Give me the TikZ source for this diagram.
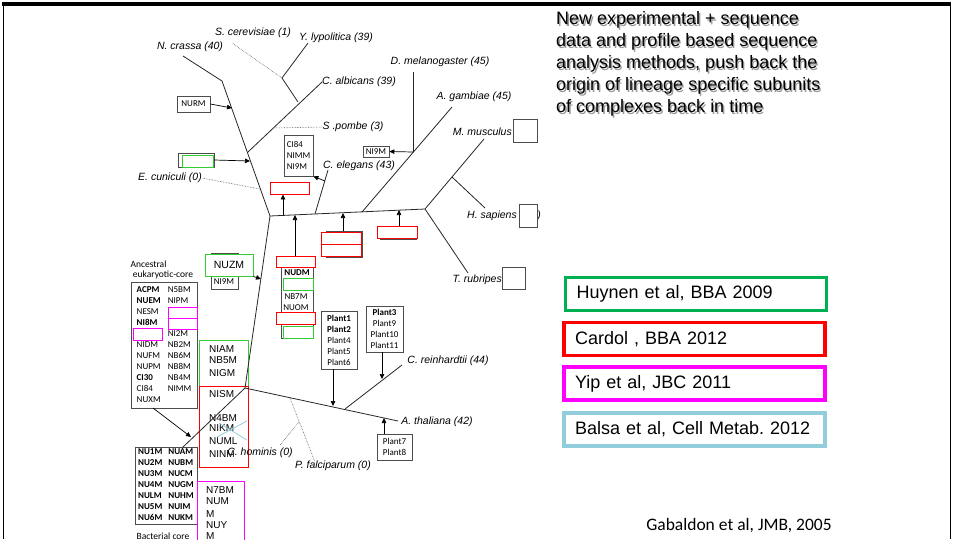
\documentclass[tikz,border=0pt]{standalone}
\usepackage{fontspec}
\setmainfont{Liberation Sans}
\newfontfamily\calibri{Carlito}
\usetikzlibrary{arrows.meta}
\frenchspacing
\definecolor{hgreen}{HTML}{00B050}
\definecolor{boxgreen}{HTML}{33CC33}
\definecolor{pinkc}{HTML}{FF00FF}
\definecolor{redc}{HTML}{FF0000}
\definecolor{balsablue}{HTML}{92CDDC}
\newcommand\headtext{New experimental + sequence\\data and profile based sequence\\analysis methods, push back the\\origin of lineage specific subunits\\of complexes back in time}

\tikzset{
  sz/.style 2 args={minimum width=#1, minimum height=#2},
  branch/.style={line width=0.8pt, black!85},
  faint/.style={densely dotted, line width=0.6pt, black!65},
  species/.style={font=\itshape\fontsize{10.5}{12}\selectfont, inner sep=0pt},
  subunits/.style={draw=black!70, line width=0.7pt, fill=white, inner sep=0pt, align=left,
    font=\calibri\fontsize{9}{11}\selectfont},
  bigsub/.style={inner sep=0pt, align=left, font=\fontsize{10}{11}\selectfont},
  redbox/.style={draw=redc, line width=0.9pt, fill=white, inner sep=0pt},
  greenbox/.style={draw=boxgreen, line width=0.9pt, fill=white, inner sep=0pt},
  pinkbox/.style={draw=pinkc, line width=0.9pt, inner sep=0pt},
  tip/.style={-{Triangle[length=5pt,width=4.5pt]}, line width=0.7pt},
  legend/.style={line width=3.5pt, sz={261pt}{33pt}, inner xsep=11pt, text width=239pt,
    align=left, font=\fontsize{18}{20}\selectfont},
  headline/.style={anchor=north west, inner sep=0pt, align=left, font=\fontsize{18}{22}\selectfont}
}

\begin{document}
\begin{tikzpicture}[x=1pt,y=-1pt]
  \useasboundingbox (0,0) rectangle (953,539);
  \draw[line width=3.5pt] (2,4) -- (951,4);
  \draw[line width=1pt] (3,4) -- (3,539);
  \draw[line width=1pt] (950,4) -- (950,539);

  \node[headline, text=black!40] (headshadow) at (557.4,12.9) {\headtext};
  \node[headline] (headline) at (556,11.5) {\headtext};

  \node[legend, draw=hgreen] (huynen) at (696,294) {Huynen et al, BBA 2009};
  \node[legend, draw=redc] (cardol) at (694.5,339) {Cardol , BBA 2012};
  \node[legend, draw=pinkc] (yip) at (694.5,383.5) {Yip et al, JBC 2011};
  \node[legend, draw=balsablue] (balsa) at (694.5,429.5) {Balsa et al, Cell Metab. 2012};
  \node[font=\calibri\fontsize{17.5}{20}\selectfont] (gabaldon) at (739,526) {Gabaldon et al, JMB, 2005};

  \node[subunits, sz={33pt}{16pt}, align=center] (nurm) at (193.5,104) {NURM};
  \node[subunits, sz={36pt}{14pt}] (hgbox) at (196,160) {};
  \node[greenbox, sz={31pt}{12pt}] (hginner) at (197.5,161) {};
  \node[subunits, sz={29pt}{41pt}] (cibox) at (298.5,155.5) {CI84\\NIMM\\NI9M};
  \node[redbox, sz={39pt}{12pt}] (celred) at (289.5,188) {};
  \node[subunits, sz={26pt}{11pt}, align=center] (dmelbox) at (376,151.5) {NI9M};

  \node[subunits, sz={36pt}{26pt}] (dbl) at (344,244) {};
  \node[redbox, sz={40pt}{12pt}] (dbla) at (341,238) {};
  \node[redbox, sz={40pt}{12pt}] (dblb) at (341,250) {};
  \node[subunits, sz={36pt}{12pt}] (redrb) at (398,233) {};
  \node[redbox, sz={40pt}{12pt}] (redr) at (397,232) {};

  \node[subunits, sz={32pt}{71pt}] (nudm) at (297,302.5) {};
  \node[redbox, sz={39pt}{11pt}] (nudmred) at (295.5,261.5) {};
  \node[greenbox, sz={30pt}{12pt}] (nudmgreen) at (298,284) {};
  \node[redbox, sz={39pt}{12pt}] (nuomred) at (295.5,318) {};
  \node[greenbox, sz={30pt}{12pt}] (nuomgreen) at (298,332) {};
  \node[font=\calibri\bfseries\fontsize{9}{11}\selectfont] (nudmtext) at (297,273) {NUDM};
  \node[font=\calibri\fontsize{9}{11}\selectfont] (nb7m) at (296,297) {NB7M};
  \node[font=\calibri\fontsize{9}{11}\selectfont] (nuom) at (296,308) {NUOM};

  \node[subunits, sz={24pt}{23pt}] (mmusbox) at (525,130.5) {};
  \node[species] (hsapparen) at (539,216) {)};
  \node[subunits, sz={18pt}{23pt}] (hsapbox) at (528,215.5) {};
  \node[subunits, sz={23pt}{22pt}] (trubbox) at (513.5,278) {};

  \node[subunits, sz={27pt}{36pt}] (nuzm) at (224.5,271) {};
  \node[greenbox, sz={48pt}{22pt}, font=\fontsize{10.5}{12}\selectfont] (nuzmgreen) at (229,265) {NUZM};
  \node[font=\calibri\fontsize{9}{11}\selectfont] (nuzmni9m) at (224,282) {NI9M};

  \node[font=\calibri\fontsize{9.5}{11}\selectfont] (anclabel) at (148.5,264) {Ancestral};
  \node[font=\calibri\fontsize{9.5}{11}\selectfont] (anclabelb) at (163,275) {eukaryotic-core};
  \node[subunits, sz={66pt}{126pt}] (ancbox) at (164,345) {%
    \begin{tabular}{@{}l@{\hspace{7pt}}l@{}}
      \textbf{ACPM} & N5BM\\
      \textbf{NUEM} & NIPM\\
      NESM & \\
      \textbf{NI8M} & \\
       & NI2M\\
      NIDM & NB2M\\
      NUFM & NB6M\\
      NUPM & NB8M\\
      \textbf{CI30} & NB4M\\
      CI84 & NIMM\\
      NUXM &
    \end{tabular}};
  \node[pinkbox, sz={29pt}{11pt}] (ancpinka) at (182.5,312.5) {};
  \node[pinkbox, sz={29pt}{11pt}] (ancpinkb) at (182.5,323.5) {};
  \node[pinkbox, sz={29pt}{12pt}] (ancpinkc) at (147.5,334) {};

  \node[subunits, sz={62pt}{77pt}] (nu1m) at (166,485.5) {%
    \bfseries
    \begin{tabular}{@{}l@{\hspace{6pt}}l@{}}
      NU1M & NUAM\\
      NU2M & NUBM\\
      NU3M & NUCM\\
      NU4M & NUGM\\
      NULM & NUHM\\
      NU5M & NUIM\\
      NU6M & NUKM
    \end{tabular}};
  \node[font=\calibri\fontsize{9.5}{11}\selectfont] (bactlabel) at (163,536) {Bacterial core};

  \node[greenbox, fill=none, sz={49pt}{46pt}] (niam) at (223.5,363) {};
  \node[bigsub, anchor=north west] (niamtext) at (209,345) {NIAM\\NB5M\\[2pt]NIGM};
  \node[redbox, fill=none, sz={49pt}{81pt}] (nism) at (223.5,426.5) {};
  \node[bigsub, anchor=north west] (nismtext) at (209,390.5) {NISM\\[13pt]N4BM\\[-1pt]NIKM\\[2pt]NUML\\[2pt]NINM};
  \draw[balsablue, line width=0.8pt] (217,437) -- (247,421) (219,423) -- (247,440);
  \node[pinkbox, sz={47pt}{64pt}] (n7bm) at (220.5,513) {};
  \node[bigsub, anchor=north west] (n7bmtext) at (206,486.5) {N7BM\\NUM\\[2pt]M\\NUY\\M};

  \node[subunits, sz={36pt}{58pt}, align=center] (plant1) at (339,340) {\textbf{Plant1}\\\textbf{Plant2}\\Plant4\\Plant5\\Plant6};
  \node[subunits, sz={37pt}{46pt}, align=center] (plant3) at (384.5,329) {\textbf{Plant3}\\Plant9\\Plant10\\Plant11};
  \node[subunits, sz={35pt}{26pt}, align=center] (plant7) at (394.5,447) {Plant7\\Plant8};

  \coordinate (root) at (245,388);
  \coordinate (opis) at (270,216);
  \coordinate (fungi) at (222,81);
  \coordinate (ncrassa tip) at (183,56);
  \coordinate (calb joint) at (248,152);
  \coordinate (calb tip) at (322,82);
  \coordinate (spom joint) at (273,128);
  \coordinate (yeast joint) at (298,102);
  \coordinate (ylyp joint) at (282,78);
  \coordinate (ylyp tip) at (308,43);
  \coordinate (scer tip) at (232,43);
  \coordinate (ecun joint) at (260,189);
  \coordinate (cel joint) at (315,214);
  \coordinate (cel tip) at (328,170);
  \coordinate (cel arrow) at (325,181);
  \coordinate (gam joint) at (362,212);
  \coordinate (gam tip) at (452,107);
  \coordinate (dmel joint) at (413,152);
  \coordinate (dmel tip) at (413,72);
  \coordinate (vert) at (425,209);
  \coordinate (mmus tip) at (484,139);
  \coordinate (hsap joint) at (452,177);
  \coordinate (hsap tip) at (485,208);
  \coordinate (trub tip) at (468,273);
  \coordinate (bact) at (183,447);
  \coordinate (plant tip) at (398,421);
  \coordinate (crei joint) at (345,409);
  \coordinate (crei tip) at (402,365);
  \coordinate (pfal joint) at (290,398);
  \coordinate (pfal tip) at (315,462);
  \coordinate (chom joint) at (299,422);
  \coordinate (chom tip) at (280,445);

  \node[species] (ncrassa) at (190,47) {N. crassa (40)};
  \node[species] (scer) at (253,33) {S. cerevisiae (1)};
  \node[species] (ylyp) at (336,38) {Y. lypolitica (39)};
  \node[species] (calb) at (359,82) {C. albicans (39)};
  \node[species] (spombe) at (353,127) {S .pombe (3)};
  \node[species] (cel) at (359,166) {C. elegans (43)};
  \node[species] (ecuniculi) at (170,178) {E. cuniculi (0)};
  \node[species] (dmel) at (440,62) {D. melanogaster (45)};
  \node[species] (gam) at (474,97) {A. gambiae (45)};
  \node[species, anchor=east] (mmus) at (512,132) {M. musculus};
  \node[species, anchor=east] (hsap) at (517,216) {H. sapiens};
  \node[species, anchor=east] (trub) at (502,280) {T. rubripes};
  \node[species] (crei) at (448,361) {C. reinhardtii (44)};
  \node[species] (athal) at (437,422) {A. thaliana (42)};
  \node[species] (chom) at (260,453) {C. hominis (0)};
  \node[species] (pfal) at (333,466) {P. falciparum (0)};

  \draw[branch] (ncrassa tip) -- (fungi) -- (opis) -- (root) -- (bact);
  \draw[branch] (calb joint) -- (calb tip);
  \draw[branch] (yeast joint) -- (ylyp joint) -- (ylyp tip);
  \draw[faint] (ylyp joint) -- (scer tip);
  \draw[faint] (spom joint) -- (spombe.west);
  \draw[faint] (ecun joint) -- (ecuniculi.east);
  \draw[branch] (opis) -- (vert) -- (mmus tip);
  \draw[branch] (cel joint) -- (cel tip);
  \draw[branch] (gam joint) -- (gam tip);
  \draw[branch] (dmel joint) -- (dmel tip);
  \draw[branch] (hsap joint) -- (hsap tip);
  \draw[branch] (vert) -- (trub tip);
  \draw[branch] (root) -- (plant tip);
  \draw[branch] (crei joint) -- (crei tip);
  \draw[faint] (pfal joint) -- (pfal tip);
  \draw[faint] (chom joint) -- (chom tip);

  \coordinate (nurm hit) at (232,108);
  \coordinate (hg hit) at (250,161);
  \coordinate (celred foot) at (283,215);
  \coordinate (nudm hit) at (295,215);
  \coordinate (dbl hit) at (343,213);
  \coordinate (redr hit) at (399,210);
  \coordinate (nuzm hit) at (261,279);
  \coordinate (anc foot) at (153,408);
  \coordinate (bact arrow) at (191,437);
  \coordinate (p1 hit) at (333,406);
  \coordinate (p3 hit) at (382,379);
  \coordinate (p7 hit) at (384,418);

  \draw[tip] (nurm.east) -- (nurm hit);
  \draw[tip] (hgbox.east) -- (hg hit);
  \draw[tip] (cel arrow) -- (cibox.south east);
  \draw[tip] (celred foot) -- (celred.south -| celred foot);
  \draw[tip] (dmel joint) -- (dmelbox.east);
  \draw[tip] (nudmred.north -| nudm hit) -- (nudm hit);
  \draw[tip] (dbl.north -| dbl hit) -- (dbl hit);
  \draw[tip] (redr.north -| redr hit) -- (redr hit);
  \draw[tip] (nuzmgreen.south east) -- (nuzm hit);
  \draw[tip] (anc foot) -- (bact arrow);
  \draw[tip] (plant1.south -| p1 hit) -- (p1 hit);
  \draw[tip] (plant3.south -| p3 hit) -- (p3 hit);
  \draw[tip] (plant7.north -| p7 hit) -- (p7 hit);
\end{tikzpicture}
\end{document}
